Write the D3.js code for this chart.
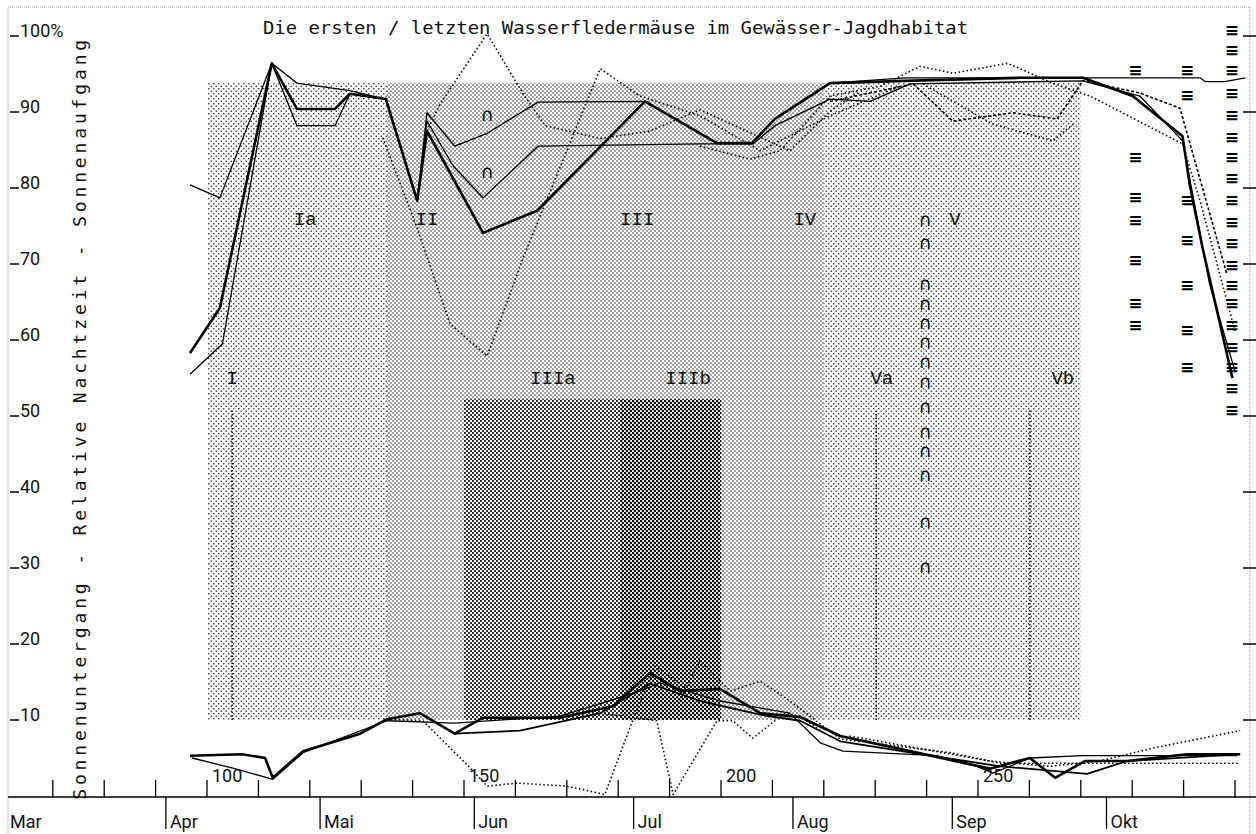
<!doctype html>
<html>
  <head>
    <meta charset="utf-8">
    <title>Wasserfledermäuse</title>
    <script src="https://cdnjs.cloudflare.com/ajax/libs/d3/7.8.5/d3.min.js"></script>
    <style>
      body { margin: 0; background: #fff; }
      svg { display: block; }
    </style>
  </head>
  <body>
    <div id="chart"></div>
  </body>
  <script>
    // ---- data (day of year / relative night time in %) ----
    var titleText = "Die ersten / letzten Wasserfledermäuse im Gewässer-Jagdhabitat";
    var axisTitle = "Sonnenuntergang  -  Relative Nachtzeit  -  Sonnenaufgang";

    var valueTicks = [10, 20, 30, 40, 50, 60, 70, 80, 90, 100];
    var valueLabels = ["10", "20", "30", "40", "50", "60", "70", "80", "90", "100%"];
    var dayTicks = [70, 80, 90, 100, 110, 120, 130, 140, 150, 160, 170, 180, 190, 200,
                    210, 220, 230, 240, 250, 260, 270, 280, 290, 300];
    var dayLabels = [100, 150, 200, 250];
    var monthNames = ["Mar", "Apr", "Mai", "Jun", "Jul", "Aug", "Sep", "Okt"];
    var monthStarts = [61, 92, 122, 152, 183, 214, 245, 275];

    // shaded phases: [startDay, endDay] and [lowValue, highValue]
    var zoneDays = [[100, 270], [135, 220], [150, 200], [180.5, 200]];
    var zoneValues = [[10, 93.8], [10, 93.8], [10, 52.2], [10, 52.2]];
    var phaseLineDays = [104.9, 230.2, 260.1];
    var phaseLineValues = [10, 51];

    var phaseLabels = ["Ia", "II", "III", "IV", "V", "I", "IIIa", "IIIb", "Va", "Vb"];
    var phaseLabelDays = [119.1, 142.8, 183.7, 216.3, 245.5, 104.9, 167.3, 193.6, 231.3, 266.5];
    var phaseLabelValues = [75.8, 75.8, 75.8, 75.8, 75.8, 54.9, 54.9, 54.9, 54.9, 54.9];

    // morning (sunrise side)
    var riseA = [[96.7, 80.4], [102.5, 78.7], [112.6, 96.4], [117.5, 93.8], [127.8, 92.8], [134.8, 91.7],
                 [140.9, 78.3], [142.8, 89.9], [148.2, 85.5], [154.5, 87.2], [164.4, 91.3], [185.2, 91.4],
                 [199.2, 85.9], [206, 85.9], [210.5, 89.1], [221.2, 93.8], [235.8, 94.5], [293.2, 94.5],
                 [294.2, 94.0], [298, 94.0], [302, 94.5]];
    var riseB = [[96.7, 58.3], [102.5, 64.2], [112.6, 96.4], [117.5, 90.4], [124.9, 90.4], [127.8, 92.4],
                 [134.8, 91.7], [140.9, 78.3], [142.8, 87.5], [153.7, 74.1], [164.2, 77], [185.2, 91.4],
                 [199.2, 85.9], [206, 85.9], [210.5, 89.1], [221.2, 93.8], [235.8, 94.1], [258.2, 94.5],
                 [270.4, 94.5], [280.1, 92.1], [289.8, 86.8], [291.2, 80.4], [293.7, 72.1], [299.5, 55]];
    var riseC = [[96.7, 55.5], [103, 59.5], [112.6, 96.4], [117.5, 88.2], [124.9, 88.2], [127.8, 92.4],
                 [134.8, 91.7], [140.9, 78.3], [142.8, 88.8], [147.9, 82.9], [153.7, 78.7], [164.4, 85.5],
                 [196, 85.8], [206.2, 85.8], [210.5, 88.2], [221.2, 91.7], [229, 91.4], [236.8, 93.7],
                 [270.4, 94.1], [281.5, 92.1], [289.8, 86.2], [295, 67.5], [300, 55.9]];
    var riseD = [[142.8, 87.5], [145.3, 91], [154.5, 100.3], [161.5, 92.4], [165.8, 88.2], [176.5, 86.5],
                 [186.2, 87.5], [195.9, 90.3], [213.4, 84.9], [221.2, 90.1], [227, 92.7]];
    var riseE = [[134.2, 86.6], [140.9, 74.7], [147.3, 62.1], [154.5, 57.9], [161.5, 70.8], [176.5, 95.7],
                 [184.2, 92.1], [195.9, 89.5], [207.6, 84.9], [221.2, 89.5], [234.8, 93.4]];
    var riseF = [[195.9, 85.5], [205.6, 83.8], [211.5, 84.9], [221.2, 92.1], [231, 93.4], [238.7, 96],
                 [245.2, 95.1], [255.7, 96.4], [258.2, 95.7], [264, 93.9], [271.8, 92.1], [289.8, 85.8],
                 [293.2, 78.3], [300, 61.2]];
    var riseG = [[221.2, 91.4], [237.4, 93.7], [245.1, 88.8], [256.8, 89.9], [265.4, 89.1], [270.4, 94.1],
                 [281.5, 92.5], [289.3, 90.5], [298.4, 68.7]];
    var riseH = [[239.3, 93.7], [252.9, 88.4], [264.6, 86.2], [268.5, 88.4]];

    // evening (sunset side)
    var setA = [[96.7, 5.3], [106.8, 5.5], [111.3, 5], [112.8, 2.4], [118.7, 5.9], [129.8, 8.2], [135, 10.1],
                [141.4, 10.9], [148.2, 8.2], [153.7, 10.3], [168.7, 10.3], [179, 11.8], [186.2, 16.2],
                [192, 13.8], [199.8, 14.1], [207.6, 10.9], [215.4, 10.4], [223.2, 7.9], [234.8, 6.2],
                [252.3, 3.6], [260.1, 5], [265, 2.4], [270.8, 4.6], [279, 4.6], [290.7, 5.5], [301, 5.5]];
    var setB = [[97.1, 5], [105.4, 3.6], [112.8, 2.2], [118.7, 5.7], [135, 9.9], [148.2, 9.6], [168.7, 10.5],
                [184.2, 13.8], [188.1, 14.9], [199.8, 12.5], [213.4, 10.9], [219.3, 7], [223.7, 5.9],
                [242, 5.3], [249.8, 3.9], [252.9, 3], [260.1, 5], [270.4, 5.3], [300.4, 5.3]];
    var setC = [[148.2, 8.2], [160.9, 8.6], [176.5, 10.9], [186.2, 14.8], [195.9, 12.5], [207.6, 10.7],
                [215.4, 9.9], [223.2, 7.2], [244.6, 4.9], [254.4, 3.9], [271.2, 2.9], [279, 4.6], [301, 5.5]];
    var setD = [[135, 10.1], [142, 9.9], [151.2, 3.7], [154.5, 1.3], [160.3, 1.7], [170, 1.3], [177.4, 0.2],
                [182.9, 10.1], [187.2, 17.1], [194, 13.8]];
    var setE = [[176.5, 10.9], [187.5, 9.9], [190.7, 0.2], [199.2, 9.9], [202.3, 9.9], [206.2, 7.6],
                [212.1, 10.8], [215.4, 10.5], [219.3, 8.6]];
    var setF = [[192, 12.5], [195.9, 17.8], [201.8, 13.8], [207.6, 15.1], [213.4, 12.5], [223.2, 7.5],
                [244.6, 5.7], [254.4, 4.3], [273.7, 4.3], [301, 4.3]];
    var setG = [[225, 7.9], [252.3, 4.6], [264, 3.9], [273.7, 4.6], [284, 6.3], [301, 8.6]];

    // single observations
    var capDays = [154.5, 154.5, 239.7, 239.7, 239.7, 239.7, 239.7, 239.7, 239.7, 239.7, 239.7, 239.7,
                   239.7, 239.7, 239.7, 239.7];
    var capValues = [89.5, 82, 75.6, 72.6, 67.2, 64.6, 62.1, 59.6, 57, 54.4, 51.1, 47.8, 45.2, 42.1, 35.9, 30];
    var barDays = [280.6, 280.6, 280.6, 280.6, 280.6, 280.6, 280.6,
                   290.7, 290.7, 290.7, 290.7, 290.7, 290.7, 290.7];
    var barValues = [95.4, 83.9, 78.7, 75.7, 70.4, 64.7, 61.8,
                     95.4, 92.1, 78.3, 73, 67.1, 61.2, 56.3];
    var lastDays = [299.4, 299.4, 299.4, 299.4, 299.4, 299.4, 299.4, 299.4, 299.4, 299.4,
                    299.4, 299.4, 299.4, 299.4, 299.4, 299.4, 299.4, 299.4, 299.4];
    var lastValues = [100.7, 98, 95.4, 92.4, 89.5, 86.6, 83.9, 81.2, 78.3, 75.4,
                      72.6, 69.7, 67.1, 64.7, 61.8, 58.9, 56.3, 53.6, 50.7];

    // ---- drawing ----
    var width = 1256,
      height = 834;

    var svg = d3.select("#chart")
                .append("svg")
                .attr("width", width)
                .attr("height", height);

    var x = d3.scaleLinear().domain([100, 200]).range([207, 721]);
    var y = d3.scaleLinear().domain([0, 100]).range([796, 36]);

    var mono = "'DejaVu Sans Mono', monospace";
    var serifMono = "'Liberation Mono', 'DejaVu Sans Mono', monospace";

    var defs = svg.append("defs");
    function makePattern(id, size, r) {
      var p = defs.append("pattern")
        .attr("id", id)
        .attr("width", size)
        .attr("height", size)
        .attr("patternUnits", "userSpaceOnUse");
      p.append("rect").attr("width", size).attr("height", size).attr("fill", "#fff");
      p.append("circle").attr("cx", size / 4).attr("cy", size / 4).attr("r", r).attr("fill", "#111");
      p.append("circle").attr("cx", size * 3 / 4).attr("cy", size * 3 / 4).attr("r", r).attr("fill", "#111");
    }
    makePattern("pLight", 5, 0.75);
    makePattern("pMed", 4, 0.72);
    makePattern("pDark", 4, 1.05);
    makePattern("pDarker", 4, 1.3);
    var zoneFills = ["url(#pLight)", "url(#pMed)", "url(#pDark)", "url(#pDarker)"];

    // frame
    svg.append("rect")
      .attr("x", 8).attr("y", 7)
      .attr("width", 1242).attr("height", 840)
      .attr("fill", "none")
      .attr("stroke", "#999")
      .attr("stroke-dasharray", "1,1");

    // zones
    svg.append("g").selectAll("rect")
      .data(zoneDays)
      .enter()
      .append("rect")
      .attr("x", function(d) { return x(d[0]); })
      .attr("width", function(d) { return x(d[1]) - x(d[0]); })
      .attr("y", function(d, i) { return y(zoneValues[i][1]); })
      .attr("height", function(d, i) { return y(zoneValues[i][0]) - y(zoneValues[i][1]); })
      .attr("fill", function(d, i) { return zoneFills[i]; });

    // vertical phase marks
    svg.append("g").selectAll("line")
      .data(phaseLineDays)
      .enter()
      .append("line")
      .attr("x1", function(d) { return x(d); })
      .attr("x2", function(d) { return x(d); })
      .attr("y1", y(phaseLineValues[0]))
      .attr("y2", y(phaseLineValues[1]))
      .attr("stroke", "#000")
      .attr("stroke-width", 1.5)
      .attr("stroke-dasharray", "1.5,2");

    // phase labels
    svg.append("g").selectAll("text")
      .data(phaseLabels)
      .enter()
      .append("text")
      .attr("x", function(d, i) { return x(phaseLabelDays[i]); })
      .attr("y", function(d, i) { return y(phaseLabelValues[i]); })
      .attr("text-anchor", "middle")
      .attr("dominant-baseline", "middle")
      .attr("font-family", serifMono)
      .attr("font-size", 19)
      .attr("fill", "#111")
      .text(function(d) { return d; });

    // lines
    var line = d3.line()
      .x(function(d) { return x(d[0]); })
      .y(function(d) { return y(d[1]); });

    var series = [riseA, riseB, riseC, riseD, riseE, riseF, riseG, riseH,
                  setA, setB, setC, setD, setE, setF, setG];
    var seriesStyle = ["thin", "thick", "thin", "dot", "dot", "dot", "dash", "dot",
                       "thick", "thin", "mid", "dot", "dot", "dot", "dot"];

    svg.append("g").selectAll("path")
      .data(series)
      .enter()
      .append("path")
      .attr("d", line)
      .attr("fill", "none")
      .attr("stroke", "#000")
      .attr("stroke-linejoin", "round")
      .attr("stroke-width", function(d, i) {
        switch (seriesStyle[i]) {
          case "thick": return 2.6;
          case "mid": return 1.8;
          case "thin": return 1.3;
          default: return 1.6;
        }
      })
      .attr("stroke-dasharray", function(d, i) {
        if (seriesStyle[i] === "dot") return "1.5,2.5";
        if (seriesStyle[i] === "dash") return "3,2";
        return null;
      });

    // observation glyphs
    svg.append("g").selectAll("text")
      .data(capDays)
      .enter()
      .append("text")
      .attr("x", function(d) { return x(d); })
      .attr("y", function(d, i) { return y(capValues[i]); })
      .attr("text-anchor", "middle")
      .attr("dominant-baseline", "middle")
      .attr("font-family", "'DejaVu Sans', sans-serif")
      .attr("font-size", 18)
      .text("\u2229");

    var bars = barDays.concat(lastDays);
    var barVals = barValues.concat(lastValues);
    svg.append("g").selectAll("text")
      .data(bars)
      .enter()
      .append("text")
      .attr("x", function(d) { return x(d); })
      .attr("y", function(d, i) { return y(barVals[i]); })
      .attr("text-anchor", "middle")
      .attr("dominant-baseline", "middle")
      .attr("font-family", "'DejaVu Sans', sans-serif")
      .attr("font-size", 17)
      .attr("font-weight", "bold")
      .text("\u2261");

    // left value axis
    var left = svg.append("g");
    left.selectAll("line")
      .data(valueTicks)
      .enter()
      .append("line")
      .attr("x1", 10).attr("x2", 19)
      .attr("y1", function(d) { return y(d); })
      .attr("y2", function(d) { return y(d); })
      .attr("stroke", "#000")
      .attr("stroke-width", 1.5);
    left.selectAll("text")
      .data(valueTicks)
      .enter()
      .append("text")
      .attr("x", 20)
      .attr("y", function(d) { return y(d) + 1; })
      .attr("font-family", "Roboto, 'DejaVu Sans', sans-serif")
      .attr("font-size", 18)
      .attr("fill", "#111")
      .text(function(d, i) { return valueLabels[i]; });

    // right ticks
    svg.append("g").selectAll("line")
      .data(valueTicks)
      .enter()
      .append("line")
      .attr("x1", 1243).attr("x2", 1256)
      .attr("y1", function(d) { return y(d); })
      .attr("y2", function(d) { return y(d); })
      .attr("stroke", "#000")
      .attr("stroke-width", 1.5);

    // axis title
    svg.append("text")
      .attr("transform", "translate(86," + y(-0.5) + ") rotate(-90)")
      .attr("font-family", mono)
      .attr("font-size", 18)
      .attr("textLength", y(-0.5) - y(99.5))
      .attr("lengthAdjust", "spacing")
      .attr("fill", "#111")
      .text(axisTitle);

    // title
    svg.append("text")
      .attr("x", 263)
      .attr("y", 34)
      .attr("font-family", mono)
      .attr("font-size", 18)
      .attr("textLength", 705)
      .attr("lengthAdjust", "spacingAndGlyphs")
      .attr("fill", "#111")
      .text(titleText);

    // bottom axis
    var bottom = svg.append("g");
    bottom.append("line")
      .attr("x1", 8).attr("x2", 1256)
      .attr("y1", 797).attr("y2", 797)
      .attr("stroke", "#000")
      .attr("stroke-width", 1.5);
    bottom.selectAll(".dtick")
      .data(dayTicks)
      .enter()
      .append("line")
      .attr("x1", function(d) { return x(d); })
      .attr("x2", function(d) { return x(d); })
      .attr("y1", 780).attr("y2", 797)
      .attr("stroke", "#000")
      .attr("stroke-width", 1.3);
    bottom.selectAll(".dlabel")
      .data(dayLabels)
      .enter()
      .append("text")
      .attr("x", function(d) { return x(d) + 5; })
      .attr("y", 782)
      .attr("font-family", "Roboto, 'DejaVu Sans', sans-serif")
      .attr("font-size", 18)
      .attr("fill", "#111")
      .text(function(d) { return d; });
    bottom.selectAll(".mtick")
      .data(monthStarts.slice(1))
      .enter()
      .append("line")
      .attr("x1", function(d) { return x(d); })
      .attr("x2", function(d) { return x(d); })
      .attr("y1", 797).attr("y2", 829)
      .attr("stroke", "#000")
      .attr("stroke-width", 1.3);
    bottom.selectAll(".mlabel")
      .data(monthNames)
      .enter()
      .append("text")
      .attr("x", function(d, i) { return i === 0 ? 10 : x(monthStarts[i]) + 4; })
      .attr("y", 828)
      .attr("font-family", "Roboto, 'DejaVu Sans', sans-serif")
      .attr("font-size", 18)
      .attr("fill", "#111")
      .text(function(d) { return d; });
  </script>
</html>
